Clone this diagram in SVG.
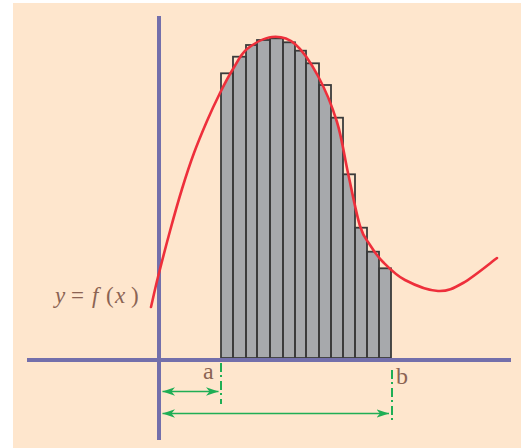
<svg xmlns="http://www.w3.org/2000/svg" width="521" height="448" viewBox="0 0 521 448">
<style>
.bar{fill:#a7a9ac;stroke:none}
.out{fill:none;stroke:#3b3b3b;stroke-width:1.8}
.axis{stroke:#736fab;stroke-width:4;fill:none}
.curve{fill:none;stroke:#ee2f3b;stroke-width:2.6;stroke-linecap:round}
.dim{stroke:#1fae55;stroke-width:1.6;fill:none}
.tick{stroke:#1fae55;stroke-width:2;fill:none;stroke-dasharray:9 3 2 4}
.lbl{fill:#8b6353}
</style>
<defs>
<marker id="ah" viewBox="0 -5 13 10" refX="12.5" refY="0" markerWidth="13" markerHeight="10" markerUnits="userSpaceOnUse" orient="auto-start-reverse">
<path d="M12.5,0 L0,-4.2 L3.5,0 L0,4.2 Z" fill="#1fae55"/>
</marker>
<clipPath id="under">
<path d="M151,307 C152.2,302 154.8,289.7 158,277 C161.2,264.3 166,245.7 170,231 C174,216.3 178,202 182,189 C186,176 189.8,164.3 194,153 C198.2,141.7 202.7,131 207,121 C211.3,111 215.7,101.7 220,93 C224.3,84.3 228.5,76.3 233,69 C237.5,61.7 240.5,54.3 247,49 C253.5,43.7 264,37.8 272,37 C280,36.2 287.3,37.5 295,44 C302.7,50.5 311,63 318,76 C325,89 332,105.8 337,122 C342,138.2 344.2,155.7 348,173 C351.8,190.3 356.3,214 360,226 C363.7,238 366.2,239 370,245 C373.8,251 377.2,256.2 383,262 C388.8,267.8 395.8,275.2 405,280 L405,362 L151,362 Z"/>
</clipPath>
</defs>
<rect x="13" y="3" width="508" height="445" fill="#fee6cd"/>
<g id="area">
<g clip-path="url(#under)">
<rect class="bar" x="221" y="73.3" width="12" height="284.7"/>
<rect class="bar" x="233" y="56.7" width="13" height="301.3"/>
<rect class="bar" x="246" y="45" width="11" height="313"/>
<rect class="bar" x="257" y="40" width="13" height="318"/>
<rect class="bar" x="270" y="38.3" width="13" height="319.7"/>
<rect class="bar" x="283" y="42.3" width="12" height="315.7"/>
<rect class="bar" x="295" y="50.7" width="11" height="307.3"/>
<rect class="bar" x="306" y="63.3" width="13" height="294.7"/>
<rect class="bar" x="319" y="85" width="12" height="273"/>
<rect class="bar" x="331" y="117.7" width="12" height="240.3"/>
<rect class="bar" x="343" y="174.3" width="12" height="183.7"/>
<rect class="bar" x="355" y="227.7" width="12" height="130.3"/>
<rect class="bar" x="367" y="251.7" width="12" height="106.3"/>
<rect class="bar" x="379" y="268.3" width="12" height="89.7"/>
</g>
<rect class="out" x="221" y="73.3" width="12" height="284.7"/>
<rect class="out" x="233" y="56.7" width="13" height="301.3"/>
<rect class="out" x="246" y="45" width="11" height="313"/>
<rect class="out" x="257" y="40" width="13" height="318"/>
<rect class="out" x="270" y="38.3" width="13" height="319.7"/>
<rect class="out" x="283" y="42.3" width="12" height="315.7"/>
<rect class="out" x="295" y="50.7" width="11" height="307.3"/>
<rect class="out" x="306" y="63.3" width="13" height="294.7"/>
<rect class="out" x="319" y="85" width="12" height="273"/>
<rect class="out" x="331" y="117.7" width="12" height="240.3"/>
<rect class="out" x="343" y="174.3" width="12" height="183.7"/>
<rect class="out" x="355" y="227.7" width="12" height="130.3"/>
<rect class="out" x="367" y="251.7" width="12" height="106.3"/>
<rect class="out" x="379" y="268.3" width="12" height="89.7"/>
</g>
<g id="axes">
<line class="axis" x1="159" y1="16" x2="159" y2="440"/>
<line class="axis" x1="27" y1="360" x2="511" y2="360"/>
</g>
<g id="curve">
<path class="curve" d="M151,307 C152.2,302 154.8,289.7 158,277 C161.2,264.3 166,245.7 170,231 C174,216.3 178,202 182,189 C186,176 189.8,164.3 194,153 C198.2,141.7 202.7,131 207,121 C211.3,111 215.7,101.7 220,93 C224.3,84.3 228.5,76.3 233,69 C237.5,61.7 240.5,54.3 247,49 C253.5,43.7 264,37.8 272,37 C280,36.2 287.3,37.5 295,44 C302.7,50.5 311,63 318,76 C325,89 332,105.8 337,122 C342,138.2 344.2,155.7 348,173 C351.8,190.3 356.3,214 360,226 C363.7,238 366.2,239 370,245 C373.8,251 377.2,256.2 383,262 C388.8,267.8 395.8,275.2 405,280 C414.2,284.8 428.3,290.5 438,291 C447.7,291.5 453.2,288.5 463,283 C472.8,277.5 491.3,262.2 497,258"/>
</g>
<g id="connectors">
<line class="tick" x1="221" y1="363" x2="221" y2="404"/>
<line class="tick" x1="392" y1="370" x2="392" y2="423"/>
<line class="dim" x1="162.5" y1="391.5" x2="218.5" y2="391.5" marker-start="url(#ah)" marker-end="url(#ah)"/>
<line class="dim" x1="162.5" y1="413.5" x2="389" y2="413.5" marker-start="url(#ah)" marker-end="url(#ah)"/>
</g>
<g id="labels" font-family="'Liberation Serif', 'Times New Roman', serif">
<text class="lbl" font-size="24" x="203" y="379">a</text>
<text class="lbl" font-size="24" x="396" y="384">b</text>
<text class="lbl" font-size="23" y="303"><tspan x="55" font-style="italic">y</tspan><tspan x="71">=</tspan><tspan x="92" font-style="italic">f</tspan><tspan x="106">(</tspan><tspan x="115" font-style="italic">x</tspan><tspan x="131">)</tspan></text>
</g>
</svg>
